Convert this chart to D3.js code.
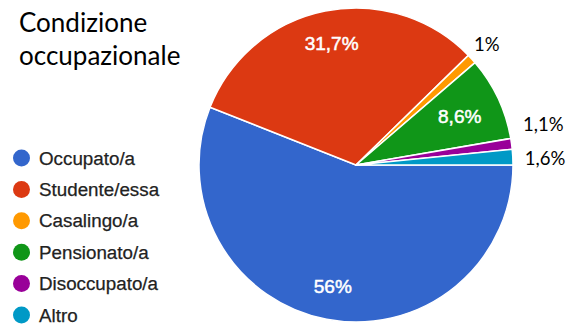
<!DOCTYPE html>
<html>
<head>
<meta charset="utf-8">
<script src="https://cdn.jsdelivr.net/npm/d3@7/dist/d3.min.js"></script>
<style>
  html, body { margin: 0; padding: 0; background: #ffffff; }
  svg { display: block; }
</style>
</head>
<body>
<svg id="chart" width="571" height="326"></svg>
<script>
// Survey answers: occupational status (percent of respondents)
const categories = ["Occupato/a", "Studente/essa", "Casalingo/a", "Pensionato/a", "Disoccupato/a", "Altro"];
const values = [56, 31.7, 1, 8.6, 1.1, 1.6];
const valueLabels = ["56%", "31,7%", "1%", "8,6%", "1,1%", "1,6%"];
const colors = ["#3366cc", "#dc3912", "#ff9900", "#109618", "#990099", "#0099c6"];
const titleLines = ["Condizione", "occupazionale"];

const svg = d3.select("#chart");

const cx = 356, cy = 165, radius = 157;

// Title
const title = svg.append("text")
  .attr("x", 19)
  .attr("y", 32)
  .attr("font-family", "Lato, 'Open Sans', sans-serif")
  .attr("font-size", 26)
  .attr("fill", "#000");
title.selectAll("tspan")
  .data(titleLines)
  .join("tspan")
  .attr("x", 19)
  .attr("dy", (d, i) => i === 0 ? 0 : 32.7)
  .text(d => d);

// Pie: starts at 3 o'clock, runs clockwise
const data = categories.map((c, i) => ({ name: c, value: values[i], label: valueLabels[i], color: colors[i] }));
const pie = d3.pie()
  .sort(null)
  .value(d => d.value)
  .startAngle(Math.PI / 2)
  .endAngle(Math.PI / 2 + 2 * Math.PI);
const arcs = pie(data);
const arc = d3.arc().innerRadius(0).outerRadius(radius);

const g = svg.append("g").attr("transform", `translate(${cx},${cy})`);
g.selectAll("path.slice")
  .data(arcs)
  .join("path")
  .attr("class", "slice")
  .attr("d", arc)
  .attr("fill", d => d.data.color)
  .attr("stroke", "#ffffff")
  .attr("stroke-width", 1.5)
  .attr("stroke-linejoin", "round");

const mid = d => (d.startAngle + d.endAngle) / 2;

// Labels inside the larger slices
const inside = arcs.filter(d => d.data.value >= 5);
g.selectAll("text.inner")
  .data(inside)
  .join("text")
  .attr("class", "inner")
  .each(function (d) {
    const r = d.data.value > 20 ? radius * 0.79 : radius * 0.73;
    const a = mid(d);
    d3.select(this)
      .attr("x", r * Math.sin(a))
      .attr("y", -r * Math.cos(a));
  })
  .attr("dy", "0.35em")
  .attr("text-anchor", "middle")
  .attr("font-family", "'Liberation Sans', Arial, sans-serif")
  .attr("font-size", 19)
  .attr("fill", "#ffffff")
  .attr("stroke", "#ffffff")
  .attr("stroke-width", 0.5)
  .text(d => d.data.label);

// Labels outside the thin slices, stacked so they do not overlap
const outside = arcs.filter(d => d.data.value < 5);
const outerFont = 18.5;
const measure = svg.append("text")
  .attr("font-family", "Lato, 'Open Sans', sans-serif")
  .attr("font-size", outerFont)
  .attr("visibility", "hidden");
const placed = outside.map(d => {
  measure.text(d.data.label);
  const w = measure.node().getComputedTextLength();
  const h = 13;
  const a = mid(d);
  const s = Math.sin(a), c = Math.cos(a);
  const R = radius + 12;
  return {
    d,
    x: R * s - w * (1 - s),
    y: -R * c - h * c,
    w
  };
});
measure.remove();

// resolve overlaps from the bottom label upwards
placed.sort((p, q) => q.y - p.y);
const gap = 34;
for (let i = 1; i < placed.length; i++) {
  if (placed[i - 1].y - placed[i].y < gap) placed[i].y = placed[i - 1].y - gap;
}

g.selectAll("text.outer")
  .data(placed)
  .join("text")
  .attr("class", "outer")
  .attr("x", p => p.x)
  .attr("y", p => p.y)
  .attr("dy", "0.5em")
  .attr("text-anchor", "start")
  .attr("font-family", "Lato, 'Open Sans', sans-serif")
  .attr("font-size", outerFont)
  .attr("fill", "#000")
  .text(p => p.d.data.label);

// Legend
const legend = svg.append("g").attr("transform", "translate(0,158)");
const rows = legend.selectAll("g.row")
  .data(data)
  .join("g")
  .attr("class", "row")
  .attr("transform", (d, i) => `translate(0,${i * 31.4})`);
rows.append("circle")
  .attr("cx", 21.5)
  .attr("cy", 0)
  .attr("r", 8.5)
  .attr("fill", d => d.color);
rows.append("text")
  .attr("x", 39)
  .attr("y", 0)
  .attr("dy", "0.35em")
  .attr("font-family", "'Liberation Sans', Arial, sans-serif")
  .attr("font-size", 18.8)
  .attr("fill", "#222")
  .attr("stroke", "#222")
  .attr("stroke-width", 0.25)
  .text(d => d.name);
</script>
</body>
</html>
